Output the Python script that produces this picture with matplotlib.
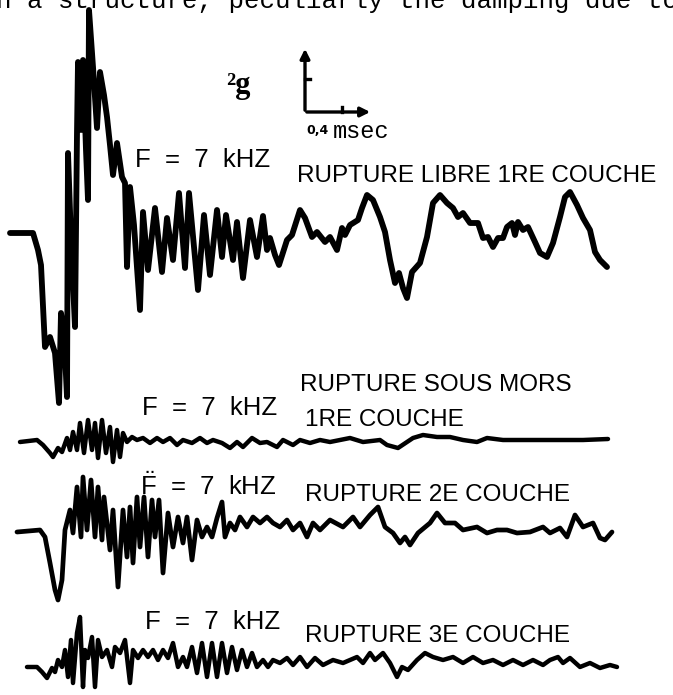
import numpy as np
import matplotlib
matplotlib.use('Agg')
from matplotlib import pyplot as plt

# traces (x = time, y = deflection, page pixels)
trace1_x = [10, 33, 38, 41, 45, 50, 55, 59, 61, 64, 67, 68, 71, 75, 77, 78, 81, 83, 86, 88, 89, 93, 97, 100,
            104, 107, 110, 113, 117, 122, 125, 127, 130, 134, 140, 143, 148, 155, 162, 167, 173, 179, 185, 189,
            198, 204, 210, 217, 222, 226, 233, 237, 243, 250, 257, 263, 267, 270, 275, 279, 287, 292, 300, 305,
            312, 317, 325, 330, 337, 342, 345, 350, 358, 362, 367, 373, 380, 385, 390, 395, 399, 403, 407, 412,
            420, 427, 433, 440, 447, 453, 458, 463, 470, 478, 483, 488, 493, 498, 503, 507, 512, 515, 518, 523,
            528, 535, 540, 547, 553, 560, 565, 570, 577, 583, 590, 595, 600, 607]
trace1_y = [233, 233, 250, 265, 347, 337, 353, 403, 313, 333, 397, 153, 240, 327, 133, 62, 130, 60, 150, 200, 10,
            67, 128, 72, 95, 117, 145, 175, 143, 177, 183, 267, 187, 225, 310, 212, 270, 208, 272, 218, 260, 193,
            268, 193, 290, 215, 275, 210, 257, 215, 260, 222, 278, 220, 257, 216, 250, 238, 255, 265, 240, 235,
            210, 218, 237, 232, 242, 237, 250, 228, 235, 225, 220, 208, 195, 200, 217, 232, 260, 283, 273, 288,
            298, 272, 263, 237, 203, 195, 203, 208, 217, 213, 223, 223, 238, 237, 247, 238, 238, 227, 223, 235,
            222, 230, 227, 242, 253, 257, 243, 217, 197, 192, 205, 218, 230, 252, 260, 267]

trace2_x = [20, 37, 43, 50, 53, 58, 62, 67, 70, 73, 77, 80, 84, 88, 92, 95, 98, 102, 106, 110, 113, 117, 120,
            123, 127, 132, 137, 143, 150, 157, 163, 170, 177, 183, 192, 200, 207, 213, 222, 230, 237, 243, 252,
            260, 267, 277, 283, 293, 300, 310, 320, 330, 350, 363, 380, 387, 398, 407, 413, 423, 437, 450, 463,
            477, 487, 503, 523, 543, 563, 583, 608]
trace2_y = [442, 440, 445, 453, 457, 448, 452, 438, 450, 432, 450, 423, 453, 420, 450, 423, 458, 420, 453, 427,
            462, 430, 457, 433, 442, 437, 440, 438, 443, 438, 442, 438, 445, 440, 443, 438, 443, 440, 443, 448,
            442, 447, 438, 443, 442, 447, 440, 445, 440, 443, 440, 442, 438, 442, 440, 445, 448, 442, 438, 435,
            437, 437, 440, 442, 438, 440, 440, 440, 440, 440, 439]

trace3_x = [17, 40, 45, 50, 55, 58, 62, 65, 70, 73, 77, 81, 83, 87, 91, 95, 98, 102, 104, 110, 113, 118, 123,
            127, 130, 133, 137, 140, 144, 148, 152, 155, 159, 163, 168, 173, 178, 183, 187, 192, 197, 202, 207,
            212, 217, 222, 225, 230, 235, 240, 247, 253, 260, 267, 273, 280, 287, 293, 300, 307, 313, 320, 330,
            343, 353, 360, 370, 378, 385, 393, 400, 405, 410, 418, 430, 437, 445, 455, 463, 477, 487, 497, 507,
            517, 530, 543, 550, 560, 567, 575, 583, 593, 600, 605, 612]
trace3_y = [532, 530, 537, 563, 590, 600, 580, 530, 510, 533, 487, 537, 477, 530, 480, 537, 487, 540, 497, 550,
            510, 587, 510, 557, 507, 563, 497, 547, 497, 557, 500, 537, 500, 573, 513, 547, 517, 543, 517, 560,
            520, 537, 527, 537, 518, 502, 537, 523, 530, 517, 527, 517, 523, 517, 523, 527, 520, 530, 523, 537,
            523, 530, 520, 527, 517, 527, 515, 507, 527, 533, 543, 537, 545, 533, 523, 513, 523, 523, 530, 527,
            533, 530, 530, 533, 532, 527, 533, 528, 537, 515, 527, 523, 538, 540, 532]

trace4_x = [27, 37, 42, 47, 52, 55, 58, 62, 65, 68, 71, 73, 77, 80, 83, 85, 88, 92, 95, 98, 102, 107, 112, 115,
            120, 125, 130, 133, 138, 143, 148, 153, 158, 163, 168, 173, 178, 183, 187, 192, 197, 202, 207, 212,
            217, 222, 227, 232, 237, 242, 247, 252, 257, 263, 268, 273, 280, 287, 293, 300, 307, 315, 323, 333,
            343, 357, 363, 370, 375, 383, 390, 397, 402, 408, 417, 425, 433, 443, 453, 463, 473, 483, 493, 503,
            513, 523, 533, 543, 550, 558, 563, 570, 580, 590, 600, 610, 617]
trace4_y = [667, 667, 672, 678, 668, 672, 660, 667, 650, 677, 640, 683, 633, 617, 687, 650, 658, 637, 687, 640,
            657, 650, 667, 647, 653, 640, 683, 650, 658, 650, 657, 650, 660, 650, 658, 643, 667, 657, 667, 647,
            673, 643, 677, 643, 677, 643, 673, 647, 670, 650, 667, 653, 667, 660, 667, 660, 663, 658, 665, 657,
            667, 658, 665, 660, 663, 657, 663, 653, 660, 653, 663, 677, 667, 670, 660, 653, 657, 660, 657, 663,
            657, 663, 660, 665, 660, 665, 660, 665, 660, 657, 663, 658, 667, 663, 668, 665, 667]

header = 'n a structure, peculiarly the damping due to'
freq_label = 'F  =  7  kHZ'
freq_label_dd = r'$\ddot{\mathrm{F}}$  =  7  kHZ'
case_labels = ['RUPTURE LIBRE 1RE COUCHE', 'RUPTURE SOUS MORS', '1RE COUCHE',
               'RUPTURE 2E COUCHE', 'RUPTURE 3E COUCHE']

plt.rcParams['mathtext.fontset'] = 'custom'
plt.rcParams['mathtext.rm'] = 'Liberation Sans'

W, H = 673, 695
fig = plt.figure(figsize=(W / 100, H / 100), dpi=100)
ax = fig.add_axes([0, 0, 1, 1])
ax.set_xlim(0, W)
ax.set_ylim(H, 0)
ax.axis('off')

line_kw = dict(color='black', solid_joinstyle='round', solid_capstyle='round')
ax.plot(trace1_x, trace1_y, lw=4.2, **line_kw)
ax.plot(trace2_x, trace2_y, lw=3.2, **line_kw)
ax.plot(trace3_x, trace3_y, lw=3.4, **line_kw)
ax.plot(trace4_x, trace4_y, lw=3.2, **line_kw)

# scale bar: 2 g vertical, 0.4 msec horizontal
cx, cy = 305, 112
ax.annotate('', xy=(cx, 46), xytext=(cx, cy + 1),
            arrowprops=dict(arrowstyle='-|>', lw=2.4, color='black', mutation_scale=14))
ax.annotate('', xy=(373, cy), xytext=(cx - 1, cy),
            arrowprops=dict(arrowstyle='-|>', lw=2.4, color='black', mutation_scale=14))
ax.plot([cx, cx + 5], [79, 79], color='black', lw=2.4)
ax.plot([342, 342], [cy, cy - 5], color='black', lw=2.4)

freq = dict(family=['Liberation Sans', 'DejaVu Sans'], fontsize=18.5, color='black', va='center', ha='left')
case = dict(freq, fontsize=17.5)
ax.text(226, 86, '\u00b2g', family='Liberation Serif', fontsize=22, fontweight='bold', va='center')
ax.text(306, 131, '0,4', fontsize=9, fontweight='bold', va='center', family='DejaVu Sans')
ax.text(333, 131, 'msec', fontsize=17, va='center', family='Liberation Mono')

ax.text(-4, 8, header, family='Liberation Mono', fontsize=18.5, va='baseline')

ax.text(135, 160, freq_label, **freq)
ax.text(297, 176, case_labels[0], **case)
ax.text(300, 385, case_labels[1], **case)
ax.text(142, 408, freq_label, **freq)
ax.text(305, 420, case_labels[2], **case)
ax.text(140, 486, freq_label_dd, **freq)
ax.text(305, 495, case_labels[3], **case)
ax.text(145, 622, freq_label, **freq)
ax.text(305, 636, case_labels[4], **case)

fig.savefig('out.png', dpi=100, facecolor='white')
